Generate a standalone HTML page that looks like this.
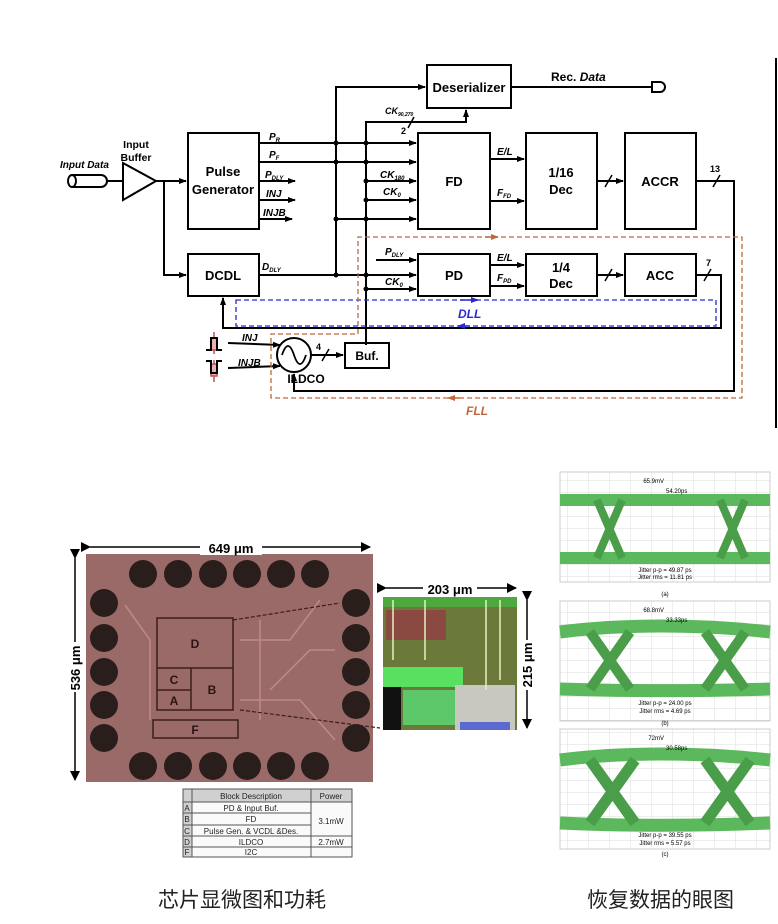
<!DOCTYPE html>
<html><head><meta charset="utf-8"><style>
html,body{margin:0;padding:0;background:#fff;}
svg{display:block;}
text{font-family:"Liberation Sans",Arial,sans-serif;}
</style></head><body>
<svg width="778" height="924" viewBox="0 0 778 924" xmlns="http://www.w3.org/2000/svg">
<defs>
<marker id="a" markerWidth="8" markerHeight="8" refX="7" refY="4" orient="auto" markerUnits="userSpaceOnUse"><path d="M0,1 L8,4 L0,7 Z" fill="#000"/></marker>
<marker id="ab" markerWidth="8" markerHeight="8" refX="7" refY="4" orient="auto" markerUnits="userSpaceOnUse"><path d="M0,1 L8,4 L0,7 Z" fill="#2a2ad0"/></marker>
<marker id="ao" markerWidth="8" markerHeight="8" refX="7" refY="4" orient="auto" markerUnits="userSpaceOnUse"><path d="M0,1 L8,4 L0,7 Z" fill="#c0683a"/></marker>
<marker id="ak" markerWidth="10" markerHeight="10" refX="9" refY="5" orient="auto" markerUnits="userSpaceOnUse"><path d="M0,0 L10,5 L0,10 Z" fill="#000"/></marker>
<pattern id="grid" width="21" height="12" patternUnits="userSpaceOnUse"><path d="M21,0 L0,0 0,12" fill="none" stroke="#ddd" stroke-width="1"/></pattern>
</defs>
<g fill="none" stroke="#000" stroke-width="2">
<path d="M72,175 L101,175 A6,6 0 0 1 101,187 L72,187"/>
<ellipse cx="72" cy="181" rx="4" ry="6"/>
<line x1="107" y1="181" x2="123" y2="181"/>
<path d="M123,163 L156,181 L123,200 Z"/>
<line x1="156" y1="181" x2="186" y2="181" marker-end="url(#a)"/>
<polyline points="164,181 164,275 186,275" marker-end="url(#a)"/>
<rect x="188" y="133" width="71" height="96"/>
<rect x="188" y="254" width="71" height="42"/>
<line x1="259" y1="143" x2="416" y2="143" marker-end="url(#a)"/>
<line x1="259" y1="162" x2="416" y2="162" marker-end="url(#a)"/>
<line x1="259" y1="181" x2="295" y2="181" marker-end="url(#a)"/>
<line x1="259" y1="200" x2="295" y2="200" marker-end="url(#a)"/>
<line x1="259" y1="219" x2="292" y2="219" marker-end="url(#a)"/>
<line x1="259" y1="275" x2="416" y2="275" marker-end="url(#a)"/>
<polyline points="336,275 336,87 425,87" marker-end="url(#a)"/>
<line x1="336" y1="219" x2="416" y2="219" marker-end="url(#a)"/>
<polyline points="366,345 366,122 466,122 466,110" marker-end="url(#a)"/>
<line x1="366" y1="181" x2="416" y2="181" marker-end="url(#a)"/>
<line x1="366" y1="200" x2="416" y2="200" marker-end="url(#a)"/>
<line x1="366" y1="289" x2="416" y2="289" marker-end="url(#a)"/>
<line x1="376" y1="260" x2="416" y2="260" marker-end="url(#a)"/>
<line x1="414" y1="117" x2="408" y2="128" stroke-width="1.5"/>
<rect x="427" y="65" width="84" height="43"/>
<line x1="511" y1="87" x2="652" y2="87"/>
<path d="M652,82 L660,82 A5,5 0 0 1 660,92 L652,92 Z"/>
<rect x="418" y="133" width="72" height="96"/>
<rect x="526" y="133" width="71" height="96"/>
<rect x="625" y="133" width="71" height="96"/>
<line x1="490" y1="159" x2="524" y2="159" marker-end="url(#a)"/>
<line x1="490" y1="201" x2="524" y2="201" marker-end="url(#a)"/>
<line x1="597" y1="181" x2="623" y2="181" marker-end="url(#a)"/>
<line x1="605" y1="187" x2="612" y2="175" stroke-width="1.5"/>
<polyline points="696,181 734,181 734,391 294,391 294,374" marker-end="url(#a)"/>
<line x1="713" y1="187" x2="720" y2="175" stroke-width="1.5"/>
<rect x="418" y="254" width="72" height="42"/>
<rect x="526" y="254" width="71" height="42"/>
<rect x="625" y="254" width="71" height="42"/>
<line x1="490" y1="265" x2="524" y2="265" marker-end="url(#a)"/>
<line x1="490" y1="286" x2="524" y2="286" marker-end="url(#a)"/>
<line x1="597" y1="275" x2="623" y2="275" marker-end="url(#a)"/>
<line x1="605" y1="281" x2="612" y2="269" stroke-width="1.5"/>
<polyline points="696,275 721,275 721,328 223,328 223,298" marker-end="url(#a)"/>
<line x1="704" y1="281" x2="711" y2="269" stroke-width="1.5"/>
<circle cx="294" cy="355" r="17"/>
<path d="M282,355 C286,343 290,343 294,355 C298,367 302,367 306,355" stroke-width="1.8"/>
<line x1="228" y1="343" x2="280" y2="345" marker-end="url(#a)"/>
<line x1="228" y1="368" x2="280" y2="366" marker-end="url(#a)"/>
<line x1="311" y1="355" x2="343" y2="355" marker-end="url(#a)"/>
<line x1="322" y1="361" x2="329" y2="349" stroke-width="1.5"/>
<rect x="345" y="343" width="44" height="25"/>
</g>
<g fill="#000">
<circle cx="336" cy="143" r="2.5"/><circle cx="336" cy="162" r="2.5"/><circle cx="336" cy="219" r="2.5"/>
<circle cx="366" cy="143" r="2.5"/><circle cx="366" cy="162" r="2.5"/><circle cx="366" cy="181" r="2.5"/><circle cx="366" cy="200" r="2.5"/><circle cx="366" cy="219" r="2.5"/>
<circle cx="366" cy="275" r="2.5"/><circle cx="366" cy="289" r="2.5"/><circle cx="336" cy="275" r="2.5"/>
</g>
<g stroke="#c05050" stroke-width="1.5" fill="#e8b0b0">
<line x1="214" y1="332" x2="214" y2="354"/><rect x="211" y="338" width="6" height="12"/>
<line x1="214" y1="360" x2="214" y2="382"/><rect x="211" y="364" width="6" height="12"/>
</g>
<g stroke="#000" stroke-width="2" fill="none">
<polyline points="206,350 211,350 211,338 217,338 217,350 222,350"/>
<polyline points="206,361 211,361 211,373 217,373 217,361 222,361"/>
</g>
<rect x="236" y="300" width="480" height="26" fill="none" stroke="#2a2ad0" stroke-width="1.3" stroke-dasharray="5,3"/>
<line x1="460" y1="300" x2="478" y2="300" stroke="#2a2ad0" stroke-width="1.5" marker-end="url(#ab)"/>
<line x1="470" y1="326" x2="458" y2="326" stroke="#2a2ad0" stroke-width="1.5" marker-end="url(#ab)"/>
<path d="M358,334 L358,237 L742,237 L742,398 L271,398 L271,334 Z" fill="none" stroke="#c0683a" stroke-width="1.3" stroke-dasharray="5,3"/>
<line x1="485" y1="237" x2="498" y2="237" stroke="#c0683a" stroke-width="1.5" marker-end="url(#ao)"/>
<line x1="460" y1="398" x2="448" y2="398" stroke="#c0683a" stroke-width="1.5" marker-end="url(#ao)"/>
<line x1="776" y1="58" x2="776" y2="428" stroke="#000" stroke-width="2"/>
<g font-weight="bold" font-size="13" text-anchor="middle">
<text x="223" y="176">Pulse</text><text x="223" y="194">Generator</text>
<text x="223" y="280">DCDL</text>
<text x="469" y="92">Deserializer</text>
<text x="454" y="186">FD</text>
<text x="561" y="177">1/16</text><text x="561" y="194">Dec</text>
<text x="660" y="186">ACCR</text>
<text x="454" y="280">PD</text>
<text x="561" y="272">1/4</text><text x="561" y="288">Dec</text>
<text x="660" y="280">ACC</text>
<text x="367" y="360" font-size="12">Buf.</text>
<text x="306" y="383" font-size="12">ILDCO</text>
<text x="136" y="148" font-size="10.5" font-weight="bold">Input</text>
<text x="136" y="161" font-size="10.5" font-weight="bold">Buffer</text>
</g>
<g font-weight="bold" font-style="italic" font-size="10">
<text x="60" y="168">Input Data</text>
<text x="551" y="81" font-style="normal" font-size="12">Rec. <tspan font-style="italic">Data</tspan></text>
<text x="269" y="140">P<tspan font-size="6" dy="2">R</tspan></text>
<text x="269" y="158">P<tspan font-size="6" dy="2">F</tspan></text>
<text x="265" y="178">P<tspan font-size="6" dy="2">DLY</tspan></text>
<text x="266" y="197">INJ</text>
<text x="263" y="216">INJB</text>
<text x="262" y="270">D<tspan font-size="6" dy="2">DLY</tspan></text>
<text x="385" y="114" font-size="9">CK<tspan font-size="5" dy="2">90,270</tspan></text>
<text x="401" y="134" font-style="normal" font-size="9">2</text>
<text x="380" y="178">CK<tspan font-size="6" dy="2">180</tspan></text>
<text x="383" y="195">CK<tspan font-size="6" dy="2">0</tspan></text>
<text x="385" y="255">P<tspan font-size="6" dy="2">DLY</tspan></text>
<text x="385" y="285">CK<tspan font-size="6" dy="2">0</tspan></text>
<text x="497" y="155">E/L</text>
<text x="497" y="196">F<tspan font-size="6" dy="2">FD</tspan></text>
<text x="497" y="261">E/L</text>
<text x="497" y="281">F<tspan font-size="6" dy="2">PD</tspan></text>
<text x="710" y="172" font-style="normal" font-size="9">13</text>
<text x="706" y="266" font-style="normal" font-size="9">7</text>
<text x="316" y="350" font-style="normal" font-size="9">4</text>
<text x="242" y="341">INJ</text>
<text x="238" y="366">INJB</text>
<text x="458" y="318" fill="#2a2ad0" font-size="12">DLL</text>
<text x="466" y="415" fill="#c0683a" font-size="12">FLL</text>
</g>

<rect x="86" y="554" width="287" height="228" fill="#9a6a68"/>
<g fill="#2a1e1c">
<circle cx="143" cy="574" r="14"/><circle cx="178" cy="574" r="14"/><circle cx="213" cy="574" r="14"/><circle cx="247" cy="574" r="14"/><circle cx="281" cy="574" r="14"/><circle cx="315" cy="574" r="14"/>
<circle cx="143" cy="766" r="14"/><circle cx="178" cy="766" r="14"/><circle cx="213" cy="766" r="14"/><circle cx="247" cy="766" r="14"/><circle cx="281" cy="766" r="14"/><circle cx="315" cy="766" r="14"/>
<circle cx="104" cy="603" r="14"/><circle cx="104" cy="638" r="14"/><circle cx="104" cy="672" r="14"/><circle cx="104" cy="705" r="14"/><circle cx="104" cy="738" r="14"/>
<circle cx="356" cy="603" r="14"/><circle cx="356" cy="638" r="14"/><circle cx="356" cy="672" r="14"/><circle cx="356" cy="705" r="14"/><circle cx="356" cy="738" r="14"/>
</g>
<g stroke="#c89290" stroke-width="1.5" fill="none" opacity="0.8">
<path d="M125,605 L150,640 L150,720"/><path d="M240,640 L290,640 L320,600"/><path d="M240,700 L300,700 L335,740"/><path d="M260,620 L260,720"/><path d="M270,690 L310,650 L335,650"/>
</g>
<g stroke="#3a1e1c" stroke-width="1.5" fill="none">
<rect x="157" y="618" width="76" height="92"/><line x1="157" y1="668" x2="233" y2="668"/><line x1="191" y1="668" x2="191" y2="710"/><line x1="157" y1="690" x2="191" y2="690"/>
<rect x="153" y="720" width="85" height="18"/>
</g>
<g stroke="#3a1e1c" stroke-width="1.2" stroke-dasharray="4,2"><line x1="233" y1="620" x2="340" y2="603"/><line x1="240" y1="710" x2="380" y2="728"/></g>
<g font-size="12" font-weight="bold" fill="#2a1414" text-anchor="middle">
<text x="195" y="648">D</text><text x="174" y="684">C</text><text x="174" y="705">A</text><text x="212" y="694">B</text><text x="195" y="734">F</text>
</g>
<g stroke="#000" stroke-width="1.5">
<line x1="90" y1="547" x2="370" y2="547" marker-start="url(#ak)" marker-end="url(#ak)"/>
<line x1="75" y1="558" x2="75" y2="780" marker-start="url(#ak)" marker-end="url(#ak)"/>
<line x1="386" y1="588" x2="516" y2="588" marker-start="url(#ak)" marker-end="url(#ak)"/>
<line x1="527" y1="600" x2="527" y2="728" marker-start="url(#ak)" marker-end="url(#ak)"/>
</g>
<rect x="200" y="539" width="62" height="16" fill="#fff"/>
<text x="231" y="553" font-size="13" font-weight="bold" text-anchor="middle">649 μm</text>
<rect x="423" y="580" width="54" height="16" fill="#fff"/>
<text x="450" y="594" font-size="13" font-weight="bold" text-anchor="middle">203 μm</text>
<rect x="67" y="642" width="16" height="50" fill="#fff"/>
<text transform="translate(80,668) rotate(-90)" font-size="13" font-weight="bold" text-anchor="middle">536 μm</text>
<rect x="519" y="640" width="16" height="50" fill="#fff"/>
<text transform="translate(532,665) rotate(-90)" font-size="13" font-weight="bold" text-anchor="middle">215 μm</text>
<rect x="383" y="597" width="134" height="133" fill="#6b7a3a"/>
<rect x="383" y="597" width="134" height="10" fill="#4fa83e"/>
<rect x="386" y="610" width="60" height="30" fill="#8a4a42"/>
<rect x="383" y="667" width="80" height="20" fill="#58e060"/>
<rect x="383" y="687" width="18" height="43" fill="#111"/>
<rect x="403" y="690" width="58" height="35" fill="#5cc86a"/>
<rect x="455" y="685" width="60" height="45" fill="#c8c8c0"/>
<rect x="460" y="722" width="50" height="8" fill="#5a6ad0"/>
<g stroke="#e8f0c0" stroke-width="1.5"><line x1="393" y1="600" x2="393" y2="660"/><line x1="425" y1="600" x2="425" y2="660"/><line x1="486" y1="600" x2="486" y2="690"/><line x1="500" y1="600" x2="500" y2="680"/></g>
<g stroke="#555" stroke-width="1" fill="none">
<rect x="183" y="789" width="169" height="68" fill="#fafafa"/>
<rect x="183" y="789" width="169" height="13" fill="#d0d0d0"/>
<rect x="183" y="802" width="9" height="55" fill="#d0d0d0"/>
<line x1="192" y1="789" x2="192" y2="857"/><line x1="311" y1="789" x2="311" y2="857"/>
<line x1="183" y1="813" x2="311" y2="813"/><line x1="183" y1="825" x2="311" y2="825"/><line x1="183" y1="836" x2="352" y2="836"/><line x1="183" y1="847" x2="352" y2="847"/>
</g>
<g font-size="8" text-anchor="middle" fill="#222">
<text x="251" y="799">Block Description</text><text x="331" y="799">Power</text>
<text x="187" y="811">A</text><text x="251" y="811">PD &amp; Input Buf.</text>
<text x="187" y="822">B</text><text x="251" y="822">FD</text>
<text x="187" y="834">C</text><text x="251" y="834">Pulse Gen. &amp; VCDL &amp;Des.</text>
<text x="187" y="845">D</text><text x="251" y="845">ILDCO</text>
<text x="187" y="855">F</text><text x="251" y="855">I2C</text>
<text x="331" y="824">3.1mW</text><text x="331" y="845">2.7mW</text>
</g>
<g>
<rect x="560" y="472" width="210" height="110" fill="url(#grid)" stroke="#ccc"/>
<path d="M560,500 L770,500 M560,558 L770,558" stroke="#5cb85c" stroke-width="12"/>
<path d="M597,500 L622,558 M622,500 L597,558 M720,500 L745,558 M745,500 L720,558" stroke="#4a9e4a" stroke-width="8"/>
<text x="664" y="483" font-size="6" text-anchor="end">65.9mV</text><text x="666" y="493" font-size="6">54.20ps</text>
<text x="665" y="572" font-size="6" text-anchor="middle">Jitter p-p = 49.87 ps</text><text x="665" y="579" font-size="6" text-anchor="middle">Jitter rms = 11.81 ps</text>
<text x="665" y="596" font-size="6" text-anchor="middle">(a)</text>
</g>
<g>
<rect x="560" y="601" width="210" height="120" fill="url(#grid)" stroke="#ccc"/>
<path d="M560,632 C620,624 700,624 770,632 M560,689 C620,691 700,691 770,689" stroke="#5cb85c" stroke-width="13"/>
<path d="M590,632 L630,689 M630,632 L590,689 M705,632 L745,689 M745,632 L705,689" stroke="#4a9e4a" stroke-width="10"/>
<text x="664" y="612" font-size="6" text-anchor="end">68.8mV</text><text x="666" y="622" font-size="6">33.33ps</text>
<text x="665" y="705" font-size="6" text-anchor="middle">Jitter p-p = 24.00 ps</text><text x="665" y="713" font-size="6" text-anchor="middle">Jitter rms = 4.69 ps</text>
<text x="665" y="725" font-size="6" text-anchor="middle">(b)</text>
</g>
<g>
<rect x="560" y="729" width="210" height="120" fill="url(#grid)" stroke="#ccc"/>
<path d="M560,760 C620,752 700,752 770,760 M560,823 C620,826 700,826 770,823" stroke="#5cb85c" stroke-width="13"/>
<path d="M590,760 L635,823 M635,760 L590,823 M705,760 L750,823 M750,760 L705,823" stroke="#4a9e4a" stroke-width="11"/>
<text x="664" y="740" font-size="6" text-anchor="end">72mV</text><text x="666" y="750" font-size="6">30.58ps</text>
<text x="665" y="837" font-size="6" text-anchor="middle">Jitter p-p = 39.55 ps</text><text x="665" y="845" font-size="6" text-anchor="middle">Jitter rms = 5.57 ps</text>
<text x="665" y="856" font-size="6" text-anchor="middle">(c)</text>
</g>
<text x="158" y="907" font-size="21" font-family="'Liberation Sans','Noto Sans CJK SC',sans-serif" fill="#222">芯片显微图和功耗</text>
<text x="587" y="907" font-size="21" font-family="'Liberation Sans','Noto Sans CJK SC',sans-serif" fill="#222">恢复数据的眼图</text>
</svg>
</body></html>
